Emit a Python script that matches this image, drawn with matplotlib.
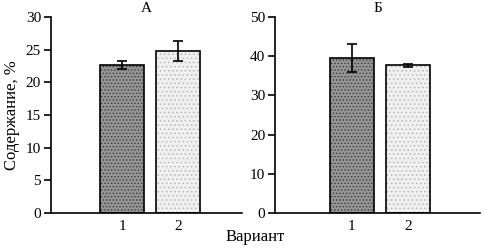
import matplotlib.pyplot as plt
import matplotlib as mpl

plt.rcParams['font.family'] = ['Liberation Serif', 'DejaVu Serif']
plt.rcParams['font.size'] = 11
mpl.rcParams['hatch.linewidth'] = 0.6

variants = [1, 2]
tick_labels = ['1', '2']
vals_a = [22.7, 24.8]
err_a = [0.6, 1.5]
vals_b = [39.5, 37.7]
err_b = [3.6, 0.4]

fig = plt.figure(figsize=(4.84, 2.48), dpi=100)
ax1 = fig.add_axes([0.105, 0.141, 0.395, 0.79])
ax2 = fig.add_axes([0.568, 0.141, 0.424, 0.79])

colors = ['#959595', '#f0f0f0']
hatches = ['.....', '....']
hcolors = ['#3a3a3a', '#b8b8b8']

def draw(ax, vals, errs, ymax, step, title, xlim):
    for x, v, e, c, h, hc in zip(variants, vals, errs, colors, hatches, hcolors):
        ax.bar(x, v, width=0.78, color=c, hatch=h, edgecolor=hc, linewidth=0)
        ax.bar(x, v, width=0.78, fill=False, edgecolor='black', linewidth=1.2)
        ax.errorbar(x, v, yerr=e, color='black', capsize=3.5, elinewidth=1.2, capthick=1.2)
    ax.set_ylim(0, ymax)
    ax.set_yticks(range(0, ymax + 1, step))
    ax.set_xlim(*xlim)
    ax.set_xticks(variants)
    ax.set_xticklabels(tick_labels)
    ax.tick_params(axis='x', length=0, pad=5)
    ax.tick_params(axis='y', length=5, width=1.2, pad=2)
    for s in ['top', 'right']:
        ax.spines[s].set_visible(False)
    for s in ['left', 'bottom']:
        ax.spines[s].set_linewidth(1.2)
    ax.set_title(title, fontsize=11, pad=4)

draw(ax1, vals_a, err_a, 30, 5, 'А', (-0.27, 3.14))
draw(ax2, vals_b, err_b, 50, 10, 'Б', (-0.375, 3.29))

ax1.set_ylabel('Содержание, %', fontsize=12, labelpad=4)
fig.text(0.527, 0.044, 'Вариант', ha='center', va='center', fontsize=12)

fig.savefig('out.png', dpi=100)
